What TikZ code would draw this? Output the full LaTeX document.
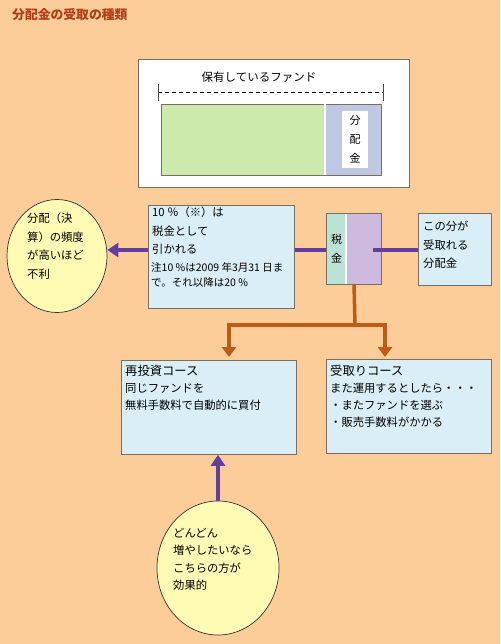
\documentclass[tikz,border=0pt]{standalone}
\usepackage{fontspec}
\setmainfont{Noto Sans CJK JP}
\usetikzlibrary{arrows.meta,shapes.geometric}
\definecolor{bgc}{RGB}{253,205,153}
\definecolor{titlec}{RGB}{178,62,22}
\definecolor{boxblue}{RGB}{217,238,247}
\definecolor{bordc}{RGB}{120,110,100}
\definecolor{purp}{RGB}{98,62,160}
\definecolor{orng}{RGB}{188,92,22}
\definecolor{ellc}{RGB}{255,250,180}
\definecolor{greenc}{RGB}{206,233,172}
\definecolor{bluec}{RGB}{190,200,226}
\definecolor{tealc}{RGB}{186,226,214}
\definecolor{lilac}{RGB}{206,186,222}
\tikzset{
  rbox/.style={draw=bordc, line width=0.8pt, fill=boxblue, anchor=north west, inner sep=0pt},
  txt/.style={anchor=north west, align=left, inner sep=0pt, font=\fontsize{11.3}{18.5}\selectfont},
  small/.style={anchor=north west, align=left, inner sep=0pt, font=\fontsize{10.5}{15.5}\selectfont},
  bubble/.style={ellipse, draw=black!80, line width=0.7pt, fill=ellc, inner sep=0pt},
  parrow/.style={purp, line width=3.5pt, -{Triangle[length=11pt,width=14pt]}},
  pline/.style={purp, line width=3.5pt},
  oline/.style={orng, line width=3.5pt},
  oarrow/.style={orng, line width=3.5pt, -{Triangle[length=10pt,width=14pt]}},
}
\begin{document}
\begin{tikzpicture}[x=1pt,y=-1pt]
\fill[bgc] (0,0) rectangle (500,644);
\useasboundingbox (0,0) rectangle (500,644);
% title
\node[anchor=west, inner sep=0pt, text=titlec, font=\fontsize{12.8}{14}\selectfont\bfseries] (title) at (12,15) {分配金の受取の種類};
% fund box
\node[draw=bordc, line width=0.8pt, fill=white, anchor=north west, minimum width=271, minimum height=128, inner sep=0pt] (fund) at (138,59) {};
\node[inner sep=0pt, font=\fontsize{11.5}{12}\selectfont] (fundlbl) at (259,77) {保有しているファンド};
\coordinate (dl) at (158,92);
\coordinate (dr) at (383,92);
\draw[black, line width=0.8pt, dash pattern=on 4pt off 3pt] (dl) -- (dr);
\draw[black!70, line width=0.8pt] (158,84) -- (158,101) (383,84) -- (383,101);
\node[fill=greenc, anchor=north west, minimum width=164, minimum height=71, inner sep=0pt] (green) at (161,104) {};
\node[fill=bluec, anchor=north west, minimum width=56, minimum height=71, inner sep=0pt] (blue) at (325,104) {};
\draw[bordc, line width=0.8pt] (161,104) rectangle (381,175);
\draw[white, line width=1.2pt] (325,104) -- (325,175);
\node[fill=white, anchor=north west, minimum width=26, minimum height=57, inner sep=0pt, align=center, font=\fontsize{11}{19}\selectfont] (bunpai) at (342,111) {分\\配\\金};
% tax box
\node[rbox, minimum width=146, minimum height=103] (tax) at (148,205) {};
\node[txt] (taxt) at (152,207) {10 ％（※）は\\税金として\\引かれる};
\node[small] (taxn) at (151,262) {注10 \%は2009 年3月31 日ま\\で。それ以降は20 \%};
% left bubble
\node[bubble, minimum width=100, minimum height=113] (left) at (57,256) {};
\node[txt] (leftt) at (27,213) {分配（決\\算）の頻度\\が高いほど\\不利};
\draw[parrow] (tax.west |- 0,250) -- (left.east |- 0,250);
% tax/dividend bar
\node[fill=tealc, anchor=north west, minimum width=19, minimum height=71, inner sep=0pt, align=center, font=\fontsize{11}{19}\selectfont] (zei) at (327,213) {税\\金};
\node[fill=lilac, anchor=north west, minimum width=35, minimum height=71, inner sep=0pt] (div) at (346,213) {};
\draw[white, line width=1.2pt] (346,213) -- (346,284);
\draw[bordc, line width=0.8pt] (326,213) rectangle (381,284);
\coordinate (bar) at (354,284);
\draw[pline] (tax.east |- 0,250) -- (326,250);
% receive box
\node[rbox, minimum width=73, minimum height=72] (recv) at (418,213) {};
\node[txt] (recvt) at (423,221) {この分が\\受取れる\\分配金};
\draw[pline] (373,250) -- (recv.west |- 0,250);
% courses
\node[rbox, minimum width=175, minimum height=94] (rein) at (121,360) {};
\node[txt, font=\fontsize{11.3}{17}\selectfont] (reint) at (125,365) {{\fontsize{12.3}{12}\selectfont 再投資コース}\\同じファンドを\\無料手数料で自動的に買付};
\node[rbox, minimum width=165, minimum height=94] (take) at (326,359) {};
\node[txt, font=\fontsize{11.3}{17}\selectfont] (taket) at (330,365) {{\fontsize{12.3}{12}\selectfont 受取りコース}\\また運用するとしたら・・・\\・またファンドを選ぶ\\・販売手数料がかかる};
\coordinate (split) at (355,325);
\draw[oline] (bar) -- (split);
\draw[oarrow, line cap=butt] (split) -| (229,357);
\draw[oarrow] (split) -| (385,357);
% bottom bubble
\node[bubble, minimum width=122, minimum height=134] (bot) at (218,568) {};
\node[txt, font=\fontsize{11.3}{17.5}\selectfont] (bott) at (173,528) {どんどん\\増やしたいなら\\こちらの方が\\効果的};
\draw[parrow] (bot.north) -- (rein.south -| bot.north);
\end{tikzpicture}
\end{document}
